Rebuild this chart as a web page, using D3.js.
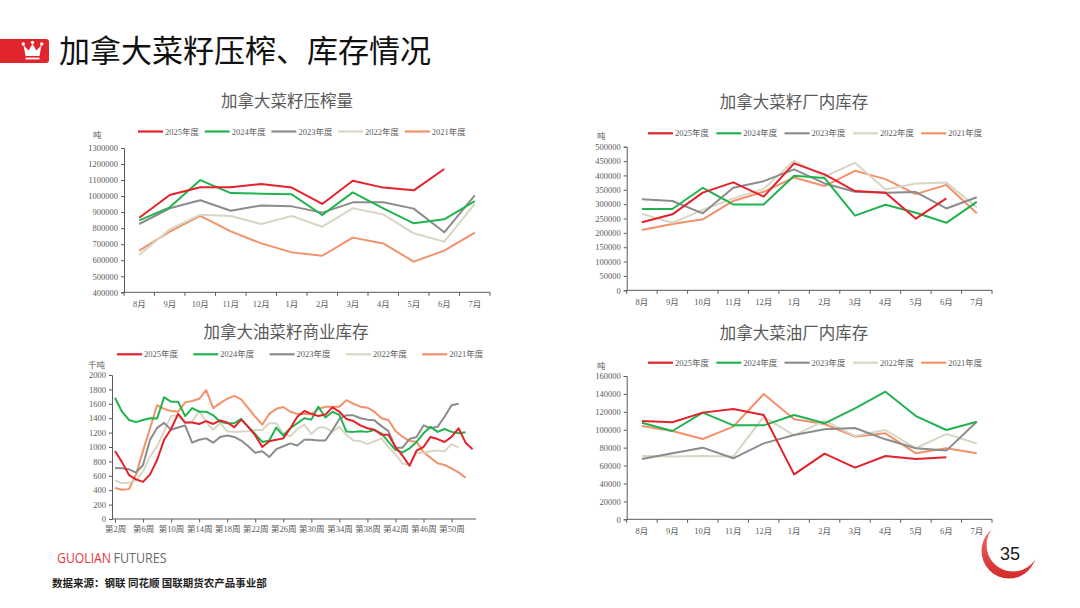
<!DOCTYPE html>
<html>
<head>
<meta charset="utf-8">
<script src="https://cdn.jsdelivr.net/npm/d3@7"></script>
<style>
  html, body { margin: 0; padding: 0; background: #fff; }
  svg { display: block; }
  .tick text { font-family: "Liberation Serif", "Noto Sans CJK SC", serif; }
</style>
</head>
<body>
<div id="page"></div>
<script>
// ---- data ----
const years = ["2025年度", "2024年度", "2023年度", "2022年度", "2021年度"];
const yearColors = ["#E3222B", "#21B350", "#8C8C8C", "#D9D6C4", "#F3916A"];
const months = ["8月", "9月", "10月", "11月", "12月", "1月", "2月", "3月", "4月", "5月", "6月", "7月"];

// 加拿大菜籽压榨量 (吨)
const crush2025 = [865000, 1007000, 1055000, 1055000, 1076000, 1053000, 951000, 1096000, 1053000, 1036000, 1169000];
const crush2024 = [849000, 930000, 1100000, 1019000, 1015000, 1011000, 882000, 1023000, 924000, 830000, 855000, 969000];
const crush2023 = [826000, 924000, 974000, 909000, 942000, 936000, 897000, 961000, 961000, 922000, 774000, 1005000];
const crush2022 = [633000, 793000, 884000, 876000, 826000, 876000, 809000, 924000, 886000, 768000, 716000, 951000];
const crush2021 = [660000, 778000, 876000, 780000, 705000, 649000, 628000, 741000, 705000, 591000, 660000, 772000];

// 加拿大菜籽厂内库存 (吨)
const seed2025 = [236700, 264500, 340000, 375900, 326000, 442000, 403700, 345700, 340000, 249400, 320200];
const seed2024 = [283000, 283000, 357000, 299000, 299000, 399000, 391000, 260000, 298000, 270000, 235000, 308000];
const seed2023 = [317000, 311000, 268000, 357000, 380000, 421000, 372000, 343000, 340000, 342000, 285000, 324000];
const seed2022 = [266000, 235000, 280000, 320000, 353000, 451000, 396000, 444000, 351000, 372000, 375000, 289000];
const seed2021 = [210000, 231000, 247000, 311000, 343000, 393000, 363000, 416000, 387000, 335000, 367000, 268000];

// 加拿大油菜籽商业库存 (千吨), weekly
const weeks = [2, 3, 4, 5, 6, 7, 8, 9, 10, 11, 12, 13, 14, 15, 16, 17, 18, 19, 20, 21, 22, 23, 24, 25, 26, 27,
  28, 29, 30, 31, 32, 33, 34, 35, 36, 37, 38, 39, 40, 41, 42, 43, 44, 45, 46, 47, 48, 49, 50, 51, 52, 53];
const weekTicks = [2, 6, 10, 14, 18, 22, 26, 30, 34, 38, 42, 46, 50];
const comm2025 = [944, 790, 610, 550, 515, 620, 820, 1100, 1250, 1460, 1340, 1340, 1320, 1360, 1320, 1370, 1340, 1275, 1380, 1280,
  1160, 1000, 1080, 1100, 1120, 1260, 1420, 1500, 1460, 1430, 1450, 1550, 1490, 1390, 1360, 1300, 1260, 1240, 1170, 1170,
  1000, 880, 740, 950, 1000, 1140, 1110, 1070, 1140, 1260, 1060, 970];
const comm2024 = [1685, 1490, 1375, 1345, 1375, 1400, 1395, 1690, 1630, 1630, 1430, 1540, 1490, 1490, 1440, 1350, 1330, 1330, 1390, 1280,
  1180, 1070, 1090, 1270, 1160, 1260, 1330, 1400, 1380, 1560, 1410, 1490, 1445, 1215, 1210, 1220, 1210, 1235, 1190, 1070,
  960, 925, 980, 1070, 1190, 1280, 1210, 1250, 1210, 1190, 1205];
const comm2023 = [710, 704, 690, 644, 750, 1100, 1265, 1335, 1240, 1270, 1300, 1060, 1100, 1120, 1060, 1140, 1160, 1140, 1090, 1010,
  920, 940, 860, 970, 1010, 1050, 1020, 1100, 1100, 1090, 1090, 1230, 1390, 1440, 1440, 1400, 1380, 1370, 1290, 1220,
  990, 990, 1110, 1140, 1300, 1260, 1280, 1420, 1580, 1600];
const comm2022 = [540, 495, 505, 540, 660, 870, 1005, 1220, 1430, 1440, 1330, 1350, 1500, 1350, 1240, 1330, 1220, 1210, 1215, 1220,
  1235, 1235, 1330, 1330, 1190, 1150, 1250, 1310, 1180, 1270, 1270, 1210, 1280, 1170, 1090, 1080, 1040, 1080, 1120, 1000,
  900, 770, 750, 920, 920, 940, 950, 940, 1040, 990];
const comm2021 = [430, 405, 415, 620, 950, 1260, 1580, 1530, 1500, 1490, 1620, 1640, 1670, 1790, 1540, 1610, 1670, 1710, 1660, 1540,
  1420, 1310, 1460, 1530, 1555, 1490, 1460, 1460, 1455, 1530, 1560, 1560, 1560, 1650, 1600, 1560, 1546, 1490, 1398, 1375,
  1222, 1143, 1083, 1074, 926, 852, 773, 750, 704, 648, 574];

// 加拿大菜油厂内库存 (吨)
const oil2025 = [109800, 108300, 119100, 123200, 116500, 50200, 73300, 57700, 70700, 67300, 69200];
const oil2024 = [107900, 98600, 119100, 104900, 104900, 116500, 107200, 123900, 142500, 115300, 99700, 109000];
const oil2023 = [67300, 73700, 80000, 68100, 84800, 94100, 100500, 102000, 89300, 79300, 76700, 109000];
const oil2022 = [70700, 70000, 70700, 70000, 114600, 93800, 110100, 93000, 99700, 79300, 95300, 84800];
const oil2021 = [104200, 98600, 89700, 103400, 139900, 111600, 106400, 92300, 96000, 73700, 79300, 73700];

// ---- page ----
const W = 1080, H = 608;
const svg = d3.select("#page").append("svg").attr("width", W).attr("height", H);
const serif = '"Liberation Serif", "Noto Sans CJK SC", serif';
const cjk = '"Noto Sans CJK SC", "Noto Sans", sans-serif';
const axisColor = "#5a5a5a";
const labelColor = "#5a5a5a";

// header
svg.append("path")
  .attr("d", "M0,39 H46 Q49,39 49,42 V60 Q49,63 46,63 H0 Z")
  .attr("fill", "#E0262C");
const crown = svg.append("g").attr("fill", "#fff");
crown.append("path").attr("d", "M23.5,45 L28.5,50.5 L32.5,44 L36.5,50.5 L41.5,45 L39.5,56 L25.5,56 Z");
[[23.3, 44], [32.5, 42.5], [41.7, 44]].forEach(p => crown.append("circle").attr("cx", p[0]).attr("cy", p[1]).attr("r", 1.7));
crown.append("rect").attr("x", 25.5).attr("y", 57.6).attr("width", 14).attr("height", 1.8);
svg.append("text")
  .attr("x", 59).attr("y", 62)
  .attr("font-family", cjk).attr("font-size", 31).attr("fill", "#111")
  .text("加拿大菜籽压榨、库存情况");

function drawChart(o) {
  const g = svg.append("g");

  g.append("text")
    .attr("x", o.titleX).attr("y", o.titleY)
    .attr("text-anchor", "middle")
    .attr("font-family", cjk).attr("font-size", 16.5).attr("fill", "#595959")
    .text(o.title);

  // legend
  const leg = g.selectAll(".leg").data(years).join("g")
    .attr("transform", (d, i) => `translate(${o.legX + i * o.legStep},${o.legY})`);
  leg.append("line").attr("x1", 0).attr("x2", 25)
    .attr("stroke", (d, i) => yearColors[i]).attr("stroke-width", 2.2);
  leg.append("text").attr("x", 27).attr("y", 3)
    .attr("font-family", serif).attr("font-size", 8.5).attr("fill", labelColor)
    .text(d => d);

  g.append("text")
    .attr("x", o.unitX).attr("y", o.unitY)
    .attr("font-family", serif).attr("font-size", 8.5).attr("fill", labelColor)
    .text(o.unit);

  const y = d3.scaleLinear().domain(o.yDomain).range([o.bottom, o.top]);
  const yAxis = g.append("g")
    .attr("transform", `translate(${o.left},0)`)
    .call(d3.axisLeft(y).tickValues(o.yTicks).tickSize(3).tickPadding(3).tickFormat(d3.format("d")));
  yAxis.select(".domain").attr("stroke", axisColor);
  yAxis.selectAll(".tick line").attr("stroke", axisColor);
  yAxis.selectAll(".tick text").attr("font-size", 8.5).attr("fill", labelColor);

  let xPos;
  if (o.band) {
    const x = d3.scaleBand().domain(months).range([o.left, o.right]);
    xPos = i => x(months[i]) + x.bandwidth() / 2;
    const xAxis = g.append("g")
      .attr("transform", `translate(0,${o.bottom})`)
      .call(d3.axisBottom(x).tickSize(0).tickPadding(9));
    xAxis.select(".domain").remove();
    xAxis.selectAll(".tick text").attr("font-size", 8.5).attr("fill", labelColor);
    const edges = months.map(m => x(m)).concat([x.range()[1]]);
    g.selectAll(".xt").data(edges).join("line")
      .attr("x1", d => d).attr("x2", d => d)
      .attr("y1", o.bottom).attr("y2", o.bottom + 3.5)
      .attr("stroke", axisColor);
  } else {
    const x = d3.scaleLinear().domain([weeks[0], weeks[weeks.length - 1]]).range([o.dataX0, o.dataX1]);
    xPos = i => x(weeks[i]);
    const xAxis = g.append("g")
      .attr("transform", `translate(0,${o.bottom})`)
      .call(d3.axisBottom(x).tickValues(weekTicks).tickSize(3.5).tickPadding(3).tickFormat(d => `第${d}周`));
    xAxis.select(".domain").remove();
    xAxis.selectAll(".tick line").attr("stroke", axisColor);
    xAxis.selectAll(".tick text").attr("font-size", 8.5).attr("fill", labelColor);
  }
  g.append("line")
    .attr("x1", o.left).attr("x2", o.right)
    .attr("y1", o.bottom).attr("y2", o.bottom)
    .attr("stroke", axisColor);

  const line = d3.line().x((d, i) => xPos(i)).y(d => y(d));
  // draw oldest first so 2025 sits on top
  o.series.slice().reverse().forEach((s, k) => {
    const idx = o.series.length - 1 - k;
    g.append("path")
      .datum(s)
      .attr("fill", "none")
      .attr("stroke", yearColors[idx])
      .attr("stroke-width", o.lineW)
      .attr("stroke-linejoin", "round")
      .attr("d", line);
  });
}

drawChart({
  title: "加拿大菜籽压榨量", titleX: 287, titleY: 107,
  legX: 138, legStep: 66.7, legY: 131.5,
  unit: "吨", unitX: 93, unitY: 138,
  left: 124, right: 490, top: 148, bottom: 292.3,
  yDomain: [400000, 1300000],
  yTicks: [400000, 500000, 600000, 700000, 800000, 900000, 1000000, 1100000, 1200000, 1300000],
  band: true, lineW: 2,
  series: [crush2025, crush2024, crush2023, crush2022, crush2021]
});

drawChart({
  title: "加拿大菜籽厂内库存", titleX: 794, titleY: 108,
  legX: 648, legStep: 68.3, legY: 133.3,
  unit: "吨", unitX: 597, unitY: 139,
  left: 626.7, right: 992, top: 146.7, bottom: 290.3,
  yDomain: [0, 500000],
  yTicks: [0, 50000, 100000, 150000, 200000, 250000, 300000, 350000, 400000, 450000, 500000],
  band: true, lineW: 2,
  series: [seed2025, seed2024, seed2023, seed2022, seed2021]
});

drawChart({
  title: "加拿大油菜籽商业库存", titleX: 286, titleY: 338,
  legX: 117, legStep: 76.3, legY: 354.3,
  unit: "千吨", unitX: 88, unitY: 367.5,
  left: 112, right: 476, top: 375, bottom: 519,
  dataX0: 115, dataX1: 472.6,
  yDomain: [0, 2000],
  yTicks: [0, 200, 400, 600, 800, 1000, 1200, 1400, 1600, 1800, 2000],
  band: false, lineW: 2,
  series: [comm2025, comm2024, comm2023, comm2022, comm2021]
});

drawChart({
  title: "加拿大菜油厂内库存", titleX: 794, titleY: 339,
  legX: 648, legStep: 68.3, legY: 362.7,
  unit: "吨", unitX: 597, unitY: 369,
  left: 626.7, right: 992, top: 376, bottom: 519.3,
  yDomain: [0, 160000],
  yTicks: [0, 20000, 40000, 60000, 80000, 100000, 120000, 140000, 160000],
  band: true, lineW: 2,
  series: [oil2025, oil2024, oil2023, oil2022, oil2021]
});

// footer
const brand = svg.append("text")
  .attr("x", 57).attr("y", 563)
  .attr("font-family", '"Open Sans", "Liberation Sans", sans-serif').attr("font-size", 14);
brand.append("tspan").attr("fill", "#E5373F").attr("textLength", 54).attr("lengthAdjust", "spacingAndGlyphs").text("GUOLIAN");
brand.append("tspan").attr("fill", "#6b6b6b").attr("dx", 2.5).attr("textLength", 53).attr("lengthAdjust", "spacingAndGlyphs").text("FUTURES");

svg.append("text")
  .attr("x", 52).attr("y", 587)
  .attr("font-family", cjk).attr("font-size", 10.5).attr("font-weight", "bold").attr("fill", "#1e1e1e")
  .text("数据来源：钢联  同花顺  国联期货农产品事业部");

// page number badge
const defs = svg.append("defs");
const grad = defs.append("linearGradient").attr("id", "badge").attr("x1", 0).attr("y1", 1).attr("x2", 0).attr("y2", 0);
grad.append("stop").attr("offset", "0%").attr("stop-color", "#D42A2A");
grad.append("stop").attr("offset", "100%").attr("stop-color", "#F07070");
svg.append("circle").attr("cx", 1009).attr("cy", 551).attr("r", 27.5).attr("fill", "url(#badge)");
svg.append("circle").attr("cx", 1013).attr("cy", 545).attr("r", 26.5).attr("fill", "#fff");
svg.append("text")
  .attr("x", 1010).attr("y", 560)
  .attr("text-anchor", "middle")
  .attr("font-family", '"Liberation Sans", Arial, sans-serif').attr("font-size", 18).attr("fill", "#1a1a1a")
  .text("35");
</script>
</body>
</html>
